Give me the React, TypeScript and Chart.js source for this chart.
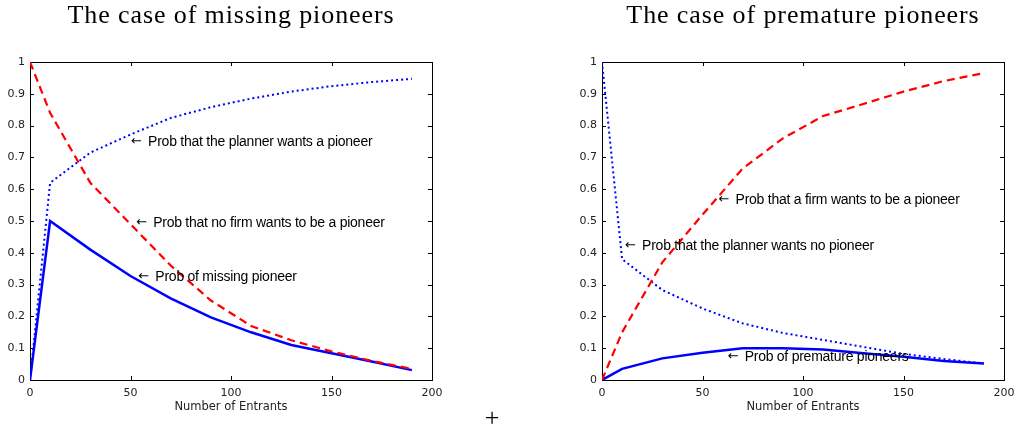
import React, { useEffect, useRef } from "react";
import { Chart, registerables } from "chart.js";

Chart.register(...registerables);

// ---- data ----
const entrants = [0, 10, 30, 50, 70, 90, 110, 130, 150, 170, 190];

// Left panel: the case of missing pioneers
const plannerWantsPioneer = [0, 0.62, 0.715, 0.772, 0.824, 0.858, 0.885, 0.907, 0.924, 0.937, 0.947];
const noFirmWantsPioneer = [1, 0.84, 0.62, 0.49, 0.36, 0.25, 0.17, 0.125, 0.09, 0.06, 0.035];
const missingPioneer = [0, 0.5, 0.41, 0.327, 0.257, 0.197, 0.15, 0.11, 0.084, 0.058, 0.031];

// Right panel: the case of premature pioneers
const plannerWantsNoPioneer = [1, 0.38, 0.283, 0.225, 0.178, 0.148, 0.126, 0.104, 0.082, 0.066, 0.052];
const firmWantsPioneer = [0, 0.15, 0.37, 0.52, 0.665, 0.76, 0.83, 0.868, 0.907, 0.94, 0.965];
const prematurePioneers = [0, 0.035, 0.068, 0.086, 0.1, 0.1, 0.096, 0.084, 0.073, 0.06, 0.052];

const xTicks = [0, 50, 100, 150, 200];
const yTickLabels = ["0", "0.1", "0.2", "0.3", "0.4", "0.5", "0.6", "0.7", "0.8", "0.9", "1"];

const titles = ["The case of missing pioneers", "The case of premature pioneers"];
const xAxisTitle = "Number of Entrants";

// annotation text anchors in data coordinates (arrow tip)
const leftNotes = [
  { x: 50.3, y: 0.751, text: "Prob that the planner wants a pioneer" },
  { x: 52.8, y: 0.496, text: "Prob that no firm wants to be a pioneer" },
  { x: 53.9, y: 0.324, text: "Prob of missing pioneer" },
];
const rightNotes = [
  { x: 58, y: 0.566, text: "Prob that a firm wants to be a pioneer" },
  { x: 11.5, y: 0.421, text: "Prob that the planner wants no pioneer" },
  { x: 62.5, y: 0.075, text: "Prob of premature pioneers" },
];

const BLUE = "#0000ff";
const RED = "#ff0000";

const framePlugin = {
  id: "frame",
  beforeDatasetsDraw(chart: any) {
    const { ctx, chartArea, scales } = chart;
    const { left, right, top, bottom } = chartArea;
    ctx.save();
    ctx.strokeStyle = "#000";
    ctx.lineWidth = 1;
    ctx.strokeRect(Math.round(left) + 0.5, Math.round(top) + 0.5, Math.round(right - left), Math.round(bottom - top));
    const len = 4;
    ctx.beginPath();
    scales.x.ticks.forEach((t: any) => {
      const px = Math.round(scales.x.getPixelForValue(t.value)) + 0.5;
      ctx.moveTo(px, bottom);
      ctx.lineTo(px, bottom - len);
      ctx.moveTo(px, top);
      ctx.lineTo(px, top + len);
    });
    scales.y.ticks.forEach((t: any) => {
      const py = Math.round(scales.y.getPixelForValue(t.value)) + 0.5;
      ctx.moveTo(left, py);
      ctx.lineTo(left + len, py);
      ctx.moveTo(right, py);
      ctx.lineTo(right - len, py);
    });
    ctx.stroke();
    ctx.restore();
  },
};

function makeNotesPlugin(notes: { x: number; y: number; text: string }[]) {
  return {
    id: "notes",
    afterDatasetsDraw(chart: any) {
      const { ctx, scales } = chart;
      ctx.save();
      ctx.fillStyle = "#000";
      ctx.textBaseline = "middle";
      ctx.textAlign = "left";
      notes.forEach((n) => {
        const px = scales.x.getPixelForValue(n.x);
        const py = scales.y.getPixelForValue(n.y);
        ctx.font = "13px 'DejaVu Sans'";
        ctx.fillText("\u2190", px, py);
        ctx.font = "14px 'Liberation Sans', Arial, sans-serif";
        (ctx as any).letterSpacing = "-0.25px";
        ctx.fillText(n.text, px + 17, py + 0.5);
        (ctx as any).letterSpacing = "0px";
      });
      ctx.restore();
    },
  };
}

function makeConfig(
  series: { data: number[]; color: string; dash: number[]; width: number }[],
  notes: { x: number; y: number; text: string }[],
  yAxisWidth: number,
  padRight: number
): any {
  return {
    type: "line",
    data: {
      datasets: series.map((s) => ({
        data: entrants.map((x, i) => ({ x, y: s.data[i] })),
        borderColor: s.color,
        borderWidth: s.width,
        borderDash: s.dash,
        pointRadius: 0,
        tension: 0,
        fill: false,
      })),
    },
    options: {
      animation: false,
      responsive: false,
      devicePixelRatio: 1,
      layout: { padding: { top: 62, left: 0, right: padRight, bottom: 17 } },
      plugins: { legend: { display: false }, tooltip: { enabled: false }, title: { display: false } },
      scales: {
        x: {
          type: "linear",
          min: 0,
          max: 200,
          afterBuildTicks: (scale: any) => {
            scale.ticks = xTicks.map((v) => ({ value: v }));
          },
          afterFit: (scale: any) => {
            scale.height = 34;
          },
          grid: { display: false, drawTicks: false },
          border: { display: false },
          ticks: {
            color: "#222",
            padding: 7,
            maxRotation: 0,
            font: { family: "'DejaVu Sans'", size: 11 },
          },
          title: {
            display: true,
            text: xAxisTitle,
            color: "#222",
            padding: { top: 2, bottom: 0 },
            font: { family: "'DejaVu Sans'", size: 11.5 },
          },
        },
        y: {
          type: "linear",
          min: 0,
          max: 1,
          afterBuildTicks: (scale: any) => {
            scale.ticks = yTickLabels.map((_, i) => ({ value: i / 10 }));
          },
          afterFit: (scale: any) => {
            scale.width = yAxisWidth;
          },
          grid: { display: false, drawTicks: false },
          border: { display: false },
          ticks: {
            color: "#222",
            padding: 5,
            font: { family: "'DejaVu Sans'", size: 11 },
            callback: (v: number) => yTickLabels[Math.round(v * 10)],
          },
        },
      },
    },
    plugins: [framePlugin, makeNotesPlugin(notes)],
  };
}

function Panel({ config, left }: { config: any; left: number }) {
  const ref = useRef<HTMLCanvasElement>(null);
  useEffect(() => {
    const chart = new Chart(ref.current as HTMLCanvasElement, config);
    return () => chart.destroy();
  }, []);
  return (
    <canvas
      ref={ref}
      width={513}
      height={431}
      style={{ position: "absolute", left, top: 0, width: 513, height: 431 }}
    />
  );
}

const titleStyle: React.CSSProperties = {
  position: "absolute",
  top: 0,
  fontFamily: "'Liberation Serif', 'Times New Roman', serif",
  fontSize: 26,
  letterSpacing: "0.9px",
  lineHeight: "30px",
  color: "#000",
  whiteSpace: "nowrap",
  transform: "translateX(-50%)",
};

export default function App() {
  const leftConfig = makeConfig(
    [
      { data: noFirmWantsPioneer, color: RED, dash: [8, 5], width: 2.2 },
      { data: missingPioneer, color: BLUE, dash: [], width: 2.5 },
      { data: plannerWantsPioneer, color: BLUE, dash: [2, 3], width: 2 },
    ],
    leftNotes,
    30,
    81
  );
  const rightConfig = makeConfig(
    [
      { data: firmWantsPioneer, color: RED, dash: [8, 5], width: 2.2 },
      { data: prematurePioneers, color: BLUE, dash: [], width: 2.5 },
      { data: plannerWantsNoPioneer, color: BLUE, dash: [2, 3], width: 2 },
    ],
    rightNotes,
    89,
    22
  );
  return (
    <div
      style={{
        position: "absolute",
        left: 0,
        top: 0,
        width: 1026,
        height: 431,
        background: "#fff",
        overflow: "hidden",
      }}
    >
      <Panel config={leftConfig} left={0} />
      <Panel config={rightConfig} left={513} />
      <div style={{ ...titleStyle, left: 231 }}>{titles[0]}</div>
      <div style={{ ...titleStyle, left: 803 }}>{titles[1]}</div>
      <div
        style={{
          position: "absolute",
          left: 492,
          top: 403,
          transform: "translateX(-50%)",
          fontFamily: "'Liberation Serif', serif",
          fontSize: 26,
          lineHeight: "30px",
          color: "#000",
        }}
      >
        +
      </div>
    </div>
  );
}
